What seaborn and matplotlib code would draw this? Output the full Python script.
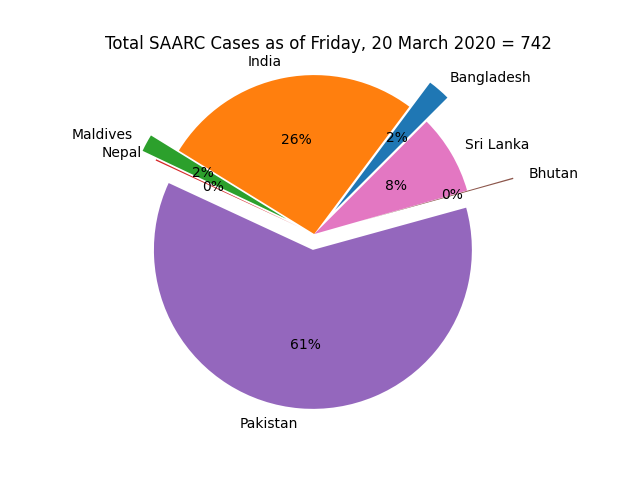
import matplotlib
matplotlib.use("Agg")
import matplotlib.pyplot as plt
import seaborn as sns

# -- data ------------------------------------------
countries = ["Bangladesh", "India", "Maldives", "Nepal", "Pakistan", "Bhutan", "Sri Lanka"]
cases = [17, 196, 13, 1, 454, 1, 60]
explode = [0.2, 0, 0.2, 0.1, 0.1, 0.3, 0]
total = sum(cases)

colors = sns.color_palette("tab10", len(countries))

fig, ax = plt.subplots(figsize=(6.4, 4.8), dpi=100)
ax.pie(cases, labels=countries, explode=explode, colors=colors,
       autopct="%1.0f%%", startangle=45)
ax.axis("equal")
ax.set_ylim(-1.215, 1.11)
ax.set_title("Total SAARC Cases as of Friday, 20 March 2020 = {}".format(total))

fig.savefig("out.png")
